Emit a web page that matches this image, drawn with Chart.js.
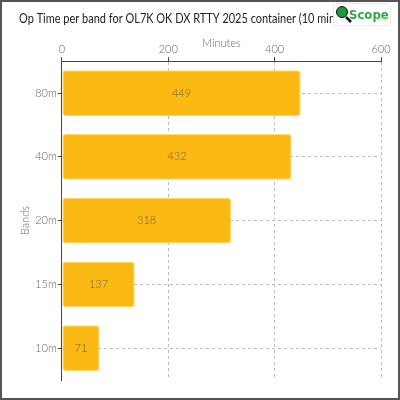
<!DOCTYPE html>
<html><head><meta charset="utf-8">
<script src="https://cdn.jsdelivr.net/npm/chart.js@4"></script>
<style>html,body{margin:0;padding:0;background:#fff}#wrap{width:400px;height:400px;position:relative}</style>
</head><body><div id="wrap"><canvas id="c" width="400" height="400"></canvas></div>
<script>
const bands = ["80m","40m","20m","15m","10m"];
const minutes = [449,432,318,137,71];
const xTicks = [0,200,400,600];
const titleText = "Op Time per band for OL7K OK DX RTTY 2025 container (10 mins periods)";
const FONT = "Lato, 'DejaVu Sans', sans-serif";

const valueLabels = {
  id:'valueLabels',
  afterDatasetsDraw(chart){
    const ctx = chart.ctx; const meta = chart.getDatasetMeta(0);
    ctx.save(); ctx.font = "300 11px " + FONT; ctx.fillStyle = "#6a6640";
    ctx.textAlign = "center"; ctx.textBaseline = "middle";
    meta.data.forEach((bar,i)=>{
      const x = (bar.x + bar.base)/2; ctx.fillText(String(minutes[i]), x, bar.y);
    });
    ctx.restore();
  }
};
const frameLogo = {
  id:'frameLogo',
  afterDraw(chart){
    const ctx = chart.ctx; ctx.save();
    ctx.fillStyle = "#fff"; ctx.strokeStyle = "#eeeed0"; ctx.lineWidth = 1;
    ctx.beginPath(); ctx.roundRect(333.5,3.5,57,22,3); ctx.fill(); ctx.stroke();
    ctx.strokeStyle = "#111"; ctx.lineWidth = 2.5;
    ctx.beginPath(); ctx.moveTo(346,17); ctx.lineTo(351,22); ctx.stroke();
    ctx.fillStyle = "#1e9a3a"; ctx.beginPath(); ctx.arc(342,12,5.5,0,Math.PI*2); ctx.fill();
    ctx.strokeStyle="#111"; ctx.lineWidth=1; ctx.stroke();
    ctx.fillStyle = "#2aa84a"; ctx.font = "bold 13px 'DejaVu Sans Condensed', sans-serif";
    ctx.textBaseline = "alphabetic"; ctx.textAlign = "left";
    ctx.fillText("Scope", 349, 19);
    ctx.fillStyle = "#9acb8a"; ctx.font = "6px sans-serif"; ctx.fillText(".org", 376, 20);
    ctx.strokeStyle = "#555"; ctx.lineWidth = 2; ctx.strokeRect(1,1,398,398);
    ctx.restore();
  }
};

new Chart(document.getElementById('c'), {
  type:'bar',
  data:{ labels: bands, datasets:[{ data: minutes, backgroundColor:"#fdb913", borderColor:"#fedc6a", borderWidth:1, borderRadius:3, borderSkipped:false }]},
  options:{
    indexAxis:'y', responsive:false, animation:false, devicePixelRatio:1,
    layout:{ padding:{ left:19, right:19, top:0, bottom:20 } },
    plugins:{
      legend:{display:false}, tooltip:{enabled:false},
      title:{ display:true, text:titleText, color:"#222", font:{family:FONT, size:12.5, weight:'normal'}, padding:{top:11,bottom:12} }
    },
    scales:{
      x:{ position:'top', min:0, max:600,
          afterBuildTicks(ax){ ax.ticks = xTicks.map(v=>({value:v})); },
          ticks:{ color:"#666", font:{family:FONT, size:11, weight:300}, padding:1 },
          title:{ display:true, text:"Minutes", color:"#666", font:{family:FONT, size:11, weight:300, lineHeight:1}, padding:{top:0,bottom:-7} },
          grid:{ color:"#bbb", tickLength:4, drawTicks:true, tickColor:"#444", tickBorderDash:[] },
          border:{ display:true, color:"#444", width:1, dash:[3,3] }
      },
      y:{ 
          ticks:{ color:"#666", font:{family:FONT, size:11, weight:300}, padding:1 },
          title:{ display:true, text:"Bands", color:"#666", font:{family:FONT, size:11, weight:300}, padding:{top:0,bottom:2} },
          grid:{ offset:false, color:"#bbb", tickLength:4, tickColor:"#444", tickBorderDash:[] },
          border:{ display:true, color:"#444", width:1, dash:[3,3] }
      }
    }
  },
  plugins:[valueLabels, frameLogo]
});
</script></body></html>
